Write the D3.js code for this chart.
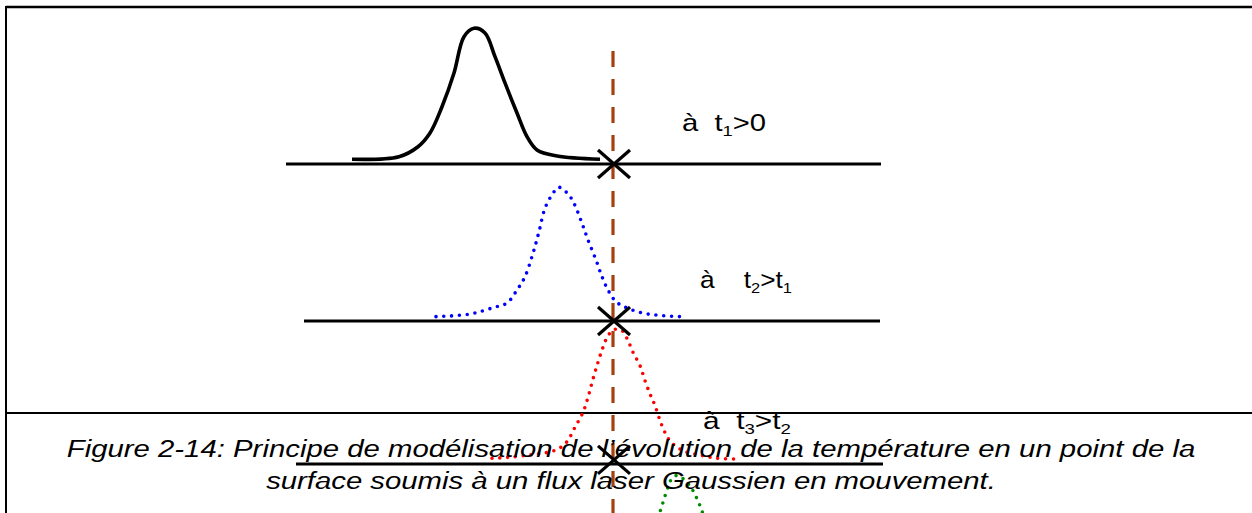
<!DOCTYPE html>
<html><head><meta charset="utf-8">
<script src="https://cdn.jsdelivr.net/npm/d3@7/dist/d3.min.js"></script>
<style>html,body{margin:0;padding:0;background:#fff;overflow:hidden}</style>
</head><body>
<svg id="chart" width="1252" height="513"></svg>
<script>
// ================= DATA =================
// position along the surface (units, 0 = observed point) and temperature (normalised)
const curve1X = [-26.1,-21.4,-19.5,-18.3,-17.1,-15.9,-14.9,-13.9,-12.8,-11.8,-10.8,-9.6,-8.6,-7.6,-5.6,-1.3];
const curve1T = [0.035,0.054,0.127,0.228,0.421,0.669,0.936,0.998,0.963,0.789,0.596,0.375,0.201,0.103,0.059,0.035];

const curve2X = [-17.7,-14.3,-12.0,-10.6,-9.6,-8.8,-8.0,-7.4,-6.8,-6.0,-5.4,-4.5,-3.9,-3.1,-2.5,-1.7,-1.1,-0.5,0.3,1.5,3.5,6.8];
const curve2T = [0.032,0.051,0.098,0.132,0.228,0.326,0.498,0.657,0.829,0.939,0.983,0.934,0.865,0.718,0.596,0.449,0.326,0.228,0.142,0.093,0.051,0.032];

const curve3X = [-12.1,-10.5,-8.1,-6.5,-5.5,-4.6,-3.8,-3.0,-2.5,-2.0,-1.5,-1.0,-0.5,0.1,0.9,1.5,2.0,2.7,3.2,3.7,4.2,4.9,5.7,7.0,9.0,10.4,12.4];
const curve3T = [0.042,0.049,0.068,0.086,0.110,0.164,0.270,0.380,0.490,0.625,0.748,0.858,0.943,0.988,0.980,0.907,0.821,0.723,0.613,0.515,0.429,0.282,0.171,0.098,0.061,0.042,0.037];

const curve4X = [4.2,4.7,5.4,5.8,6.3,6.9,7.7,8.3,8.9,9.3];
const curve4T = [0.625,0.723,0.882,0.956,0.988,0.971,0.912,0.833,0.728,0.625];

const surfaceStart = [-32.7,-30.9,-31.7];
const surfaceEnd   = [26.8, 26.7, 27.0];
const crossT = [0, 0, 0.03];

const timeLabels = [
  [{t:"à  t"},{t:"1",sub:true},{t:">0"}],
  [{t:"à    t"},{t:"2",sub:true},{t:">t"},{t:"1",sub:true}],
  [{t:"à  t"},{t:"3",sub:true},{t:">t"},{t:"2",sub:true}]
];
const captionLines = [
  "Figure 2-14: Principe de modélisation de l’évolution de la température en un point de la",
  "surface soumis à un flux laser Gaussien en mouvement."
];

// ================= LAYOUT / STYLE =================
const W = 1252, H = 513;
const svg = d3.select("#chart");
const FONT = "'Liberation Sans', Arial, Helvetica, sans-serif";

const x = d3.scaleLinear().domain([-61.3, 63.9]).range([0, W]);
const panelBase = [164, 321, 464, 610];
const ys = panelBase.map(b => d3.scaleLinear().domain([0, 1]).range([b, b - 136]));

// page frame lines
svg.append("line").attr("x1",6).attr("x2",W).attr("y1",7).attr("y2",7)
  .attr("stroke","#000").attr("stroke-width",2.5);
svg.append("line").attr("x1",6).attr("x2",6).attr("y1",6).attr("y2",H)
  .attr("stroke","#000").attr("stroke-width",2);
svg.append("line").attr("x1",6).attr("x2",W).attr("y1",413).attr("y2",413)
  .attr("stroke","#000").attr("stroke-width",2);

// surface lines
surfaceStart.forEach((s,i)=>{
  svg.append("line").attr("x1",x(s)).attr("x2",x(surfaceEnd[i]))
    .attr("y1",ys[i](0)).attr("y2",ys[i](0))
    .attr("stroke","#000").attr("stroke-width",3.2);
});

const lineGen = (yScale) => d3.line().x(d=>x(d[0])).y(d=>yScale(d[1])).curve(d3.curveCatmullRom.alpha(0.5));
const curves = [
  {X:curve1X, T:curve1T, p:0, color:"#000", dotted:false},
  {X:curve2X, T:curve2T, p:1, color:"#0000ff", dotted:true},
  {X:curve3X, T:curve3T, p:2, color:"#ff0000", dotted:true},
  {X:curve4X, T:curve4T, p:3, color:"#008c00", dotted:true}
];

// dashed vertical reference line
svg.append("line").attr("x1",x(0)).attr("x2",x(0))
  .attr("y1",ys[0](0.83)).attr("y2",H+20)
  .attr("stroke","#a4410e").attr("stroke-width",3.2)
  .attr("stroke-dasharray","16 12");

curves.forEach(c=>{
  const pts = c.X.map((v,i)=>[v,c.T[i]]);
  const path = svg.append("path").attr("d", lineGen(ys[c.p])(pts))
    .attr("fill","none").attr("stroke",c.color);
  if (c.dotted) {
    path.attr("stroke-width",3.6).attr("stroke-linecap","round").attr("stroke-dasharray","0 7.8");
  } else {
    path.attr("stroke-width",3.6).attr("stroke-linecap","butt").attr("stroke-linejoin","round");
  }
});

// crosses marking the observed point
const cw = 16, ch = 14;
crossT.forEach((t,i)=>{
  const cx = x(0) + 1, cy = ys[i](t);
  svg.append("line").attr("x1",cx-cw).attr("y1",cy-ch).attr("x2",cx+cw).attr("y2",cy+ch)
    .attr("stroke","#000").attr("stroke-width",3.2);
  svg.append("line").attr("x1",cx-cw).attr("y1",cy+ch).attr("x2",cx+cw).attr("y2",cy-ch)
    .attr("stroke","#000").attr("stroke-width",3.2);
});

// time labels
const labelPos = [[682,131,84],[700,288,92],[703,429,88]];
timeLabels.forEach((segs,i)=>{
  const [lx,ly,tw] = labelPos[i];
  const g = svg.append("g");
  const t = g.append("text").attr("x",0).attr("y",0)
    .attr("font-family",FONT).attr("font-size",24).attr("fill","#000")
    .attr("xml:space","preserve").style("white-space","pre");
  let shifted = false;
  segs.forEach(s=>{
    const sp = t.append("tspan").text(s.t);
    if (s.sub) { sp.attr("font-size",15).attr("dy", shifted ? 0 : 5); shifted = true; }
    else { sp.attr("dy", shifted ? -5 : 0); shifted = false; }
  });
  const w = t.node().getComputedTextLength();
  g.attr("transform",`translate(${lx},${ly}) scale(${tw/w},1)`);
});

// caption
const capPos = [[631,457,1129],[631,489,730]];
captionLines.forEach((line,i)=>{
  const [cx,cy,tw] = capPos[i];
  const g = svg.append("g");
  const t = g.append("text").attr("x",0).attr("y",0).attr("text-anchor","middle")
    .attr("font-family",FONT).attr("font-size",24).attr("font-style","italic")
    .attr("fill","#000").text(line);
  const w = t.node().getComputedTextLength();
  g.attr("transform",`translate(${cx},${cy}) scale(${tw/w},1)`);
});
</script>
</body></html>
